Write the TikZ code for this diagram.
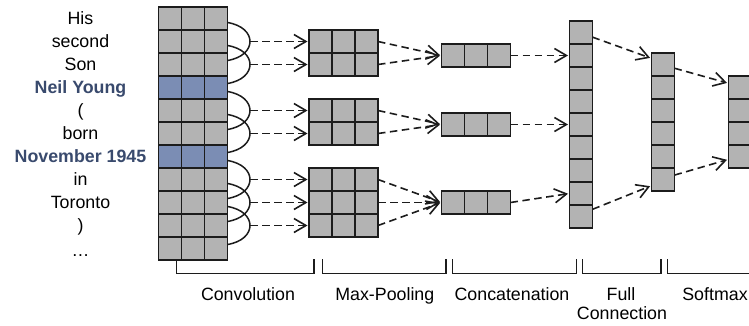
\documentclass[tikz,border=0pt]{standalone}
\usepackage{fontspec}
\setmainfont{Liberation Sans}
\usetikzlibrary{arrows.meta,calc}
\definecolor{cellgray}{HTML}{B3B3B3}
\definecolor{cellblue}{HTML}{7B8DB4}
\definecolor{wordblue}{HTML}{394A6D}
\definecolor{ink}{HTML}{1C1C1C}

\begin{document}
\begin{tikzpicture}[x=1pt,y=-1pt,
  cell/.style={draw=ink, fill=cellgray, line width=1.8pt, minimum size=23pt,
    inner sep=0pt, outer sep=0pt},
  hot/.style={cell, fill=cellblue},
  word/.style={font=\fontsize{17.8}{20}\selectfont, anchor=base, inner sep=0pt},
  key/.style={word, font=\fontsize{17.8}{20}\selectfont\bfseries, text=wordblue},
  flow/.style={draw=ink, line width=1.6pt, dash pattern=on 7.5pt off 4.5pt,
    -{Straight Barb[length=12pt,width=14pt]}, shorten >=1.5pt},
  window/.style={draw=ink, line width=1.5pt},
  brace/.style={draw=ink, line width=1.4pt}
]
\useasboundingbox (0,0) rectangle (749,325);
\clip (0,0) rectangle (749,325);

% ---- input sentence ----
\node[word] (w0)  at (80.5, 24.8)  {His};
\node[word] (w1)  at (80.5, 47.8)  {second};
\node[word] (w2)  at (80.5, 70.8)  {Son};
\node[key]  (w3)  at (80.5, 93.8)  {Neil Young};
\node[word] (w4)  at (80.5, 116.8) {(};
\node[word] (w5)  at (80.5, 139.8) {born};
\node[key]  (w6)  at (80.5, 162.8) {November 1945};
\node[word] (w7)  at (80.5, 185.8) {in};
\node[word] (w8)  at (80.5, 208.8) {Toronto};
\node[word] (w9)  at (80.5, 231.8) {)};
\node[word] (w10) at (80.5, 256.5) {…};

% ---- embedding matrix (entity rows highlighted) ----
\foreach \r/\s in {0/cell,1/cell,2/cell,3/hot,4/cell,5/cell,6/hot,7/cell,8/cell,9/cell,10/cell}
  \foreach \c in {0,1,2}
    \node[\s] (in-\r-\c) at ({170+23*\c},{18.5+23*\r}) {};

% ---- convolution windows over three rows ----
\foreach \m in {1,2,4,5,7,8,9} {
  \pgfmathtruncatemacro{\a}{\m-1}
  \pgfmathtruncatemacro{\b}{\m+1}
  \coordinate (top-\m) at ($(in-\a-2.east)+(0,4)$);
  \coordinate (bot-\m) at ($(in-\b-2.east)+(0,-4)$);
  \coordinate (tip-\m) at ($(in-\m-2.east)+(22.5,0)$);
  \draw[window] (top-\m) .. controls ($(top-\m)+(30,5)$) and ($(bot-\m)+(30,-5)$) .. (bot-\m);
}

% ---- feature maps ----
\foreach \r in {1,2,4,5,7,8,9}
  \foreach \c in {0,1,2}
    \node[cell] (pool-\r-\c) at ({320.5+23*\c},{18.5+23*\r}) {};

\foreach \m in {1,2,4,5,7,8,9}
  \draw[flow] (tip-\m) -- (pool-\m-0.west);

% ---- max-pooled vectors ----
\foreach \g/\y in {1/55.5,2/124.5,3/202.5}
  \foreach \c in {0,1,2}
    \node[cell] (cat-\g-\c) at ({453+23*\c},\y) {};

\foreach \r in {1,2} \draw[flow] (pool-\r-2.east) -- (cat-1-0.west);
\foreach \r in {4,5} \draw[flow] (pool-\r-2.east) -- (cat-2-0.west);
\foreach \r in {7,8,9} \draw[flow] (pool-\r-2.east) -- (cat-3-0.west);

% ---- concatenated vector ----
\foreach \k in {0,...,8}
  \node[cell] (t-\k) at (581,{32.5+23*\k}) {};

\draw[flow] (cat-1-2.east) -- (t-1.west);
\draw[flow] (cat-2-2.east) -- (t-4.west);
\draw[flow] (cat-3-2.east) -- (t-7.west);

% ---- fully connected layer ----
\foreach \k in {0,...,5}
  \node[cell] (fc-\k) at (663,{64.5+23*\k}) {};

\draw[flow] (t-0.-22) -- (fc-0.152);
\draw[flow] (t-8.32) -- (fc-5.208);

% ---- softmax output ----
\foreach \k in {0,...,3}
  \node[cell] (sm-\k) at (740,{87.5+23*\k}) {};

\draw[flow] (fc-0.-18) -- (sm-0.160);
\draw[flow] (fc-5.21) -- (sm-3.194);

% ---- stage brackets ----
\coordinate (b0) at (176.7,259);
\coordinate (b1) at (314,259);
\coordinate (b2) at (322.7,259);
\coordinate (b3) at (446,259);
\coordinate (b4) at (452.7,259);
\coordinate (b5) at (576.7,259);
\coordinate (b6) at (582.7,259);
\coordinate (b7) at (661,259);
\coordinate (b8) at (667.3,259);
\coordinate (b9) at (765,259);
\foreach \p/\q in {b0/b1,b2/b3,b4/b5,b6/b7,b8/b9}
  \draw[brace] (\p) -- ++(0,14.3) -| (\q);

% ---- stage labels ----
\node[word] (l1) at (248,300)   {Convolution};
\node[word] (l2) at (384.8,300) {Max-Pooling};
\node[word] (l3) at (512,300)   {Concatenation};
\node[word] (l4) at (621,300)   {Full};
\node[word] (l5) at (622,319)   {Connection};
\node[word] (l6) at (715,300)   {Softmax};
\end{tikzpicture}
\end{document}
